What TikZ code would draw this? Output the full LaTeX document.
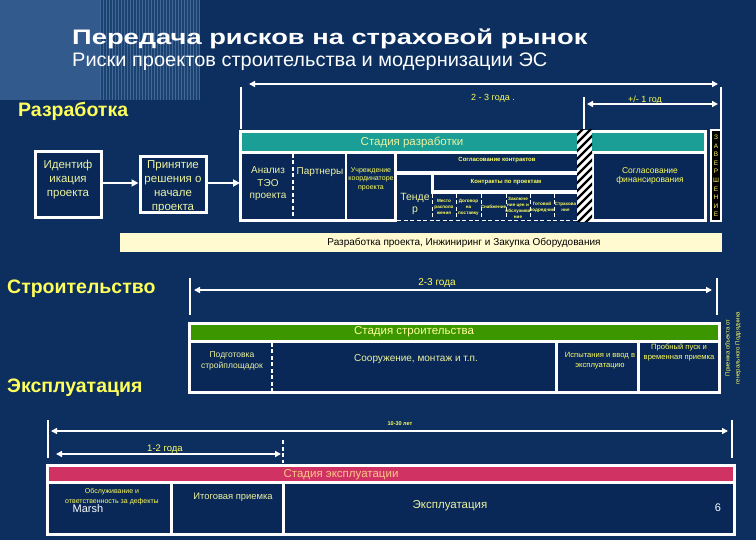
\documentclass[tikz,border=0pt]{standalone}
\usepackage{fontspec}
\setmainfont{Liberation Sans}
\usepackage{graphicx}
\usetikzlibrary{arrows.meta}
\definecolor{bgnavy}{RGB}{12,47,96}
\definecolor{cellnavy}{RGB}{9,40,88}
\definecolor{lightblk}{RGB}{50,90,140}
\definecolor{midblk}{RGB}{28,66,114}
\definecolor{stripecol}{RGB}{66,104,152}
\definecolor{cteal}{RGB}{26,158,150}
\definecolor{cgreen}{RGB}{60,150,0}
\definecolor{cmag}{RGB}{208,50,100}
\definecolor{ccream}{RGB}{255,250,208}
\definecolor{cylw}{RGB}{255,255,90}
\definecolor{cpale}{RGB}{236,242,160}
\definecolor{cpeach}{RGB}{250,200,130}
\newcommand{\fsz}[2]{\fontsize{#1}{#2}\selectfont}
\begin{document}
\begin{tikzpicture}[x=1pt,y=-1pt,
  wline/.style={white,line width=2.2pt},
  dwline/.style={white,line width=2pt,dash pattern=on 4pt off 2.5pt},
  darr/.style={white,line width=2pt,{Triangle[length=6pt,width=6pt]}-{Triangle[length=6pt,width=6pt]}},
  farr/.style={white,line width=2.5pt,-{Triangle[length=7pt,width=7pt]}},
  wbox/.style={draw=white,line width=3pt,fill=cellnavy,inner sep=0},
  ctxt/.style={text=cpale,align=center,inner sep=0},
  ytxt/.style={text=cylw,align=center,inner sep=0},
  sect/.style={text=cylw,anchor=west,inner sep=0,font=\bfseries\fsz{19.5}{22}},
]
\useasboundingbox (0,0) rectangle (756,540);
\fill[bgnavy] (0,0) rectangle (756,540);
\fill[lightblk] (0,0) rectangle (100,100);
\fill[midblk] (100,0) rectangle (200,100);
\foreach \i in {0,...,33} \fill[stripecol] (100+3*\i,0) rectangle ++(1.3,100);

% titles
\node[anchor=west,inner sep=0,text=white,font=\bfseries\fsz{21}{24}] (title) at (72,39) {\scalebox{1.3}[1]{Передача рисков на страховой рынок}};
\node[anchor=west,inner sep=0,text=white,font=\fsz{19.5}{22}] (subtitle) at (72,62) {\scalebox{1.025}[1]{Риски проектов строительства и модернизации ЭС}};
\node[sect] (razr) at (18,111) {Разработка};
\node[sect] (stroi) at (7,289) {Строительство};
\node[sect] (ekspl) at (7,388) {Эксплуатация};

% ---------- development timeline
\coordinate (t1a) at (241,87); \coordinate (t1b) at (241,129);
\coordinate (t2a) at (721,87); \coordinate (t2b) at (721,129);
\coordinate (t3a) at (584,97); \coordinate (t3b) at (584,129);
\draw[wline] (t1a) -- (t1b);
\draw[wline] (t2a) -- (t2b);
\draw[wline] (t3a) -- (t3b);
\coordinate (a1l) at (249,84); \coordinate (a1r) at (718,84);
\coordinate (a2l) at (587,104); \coordinate (a2r) at (718,104);
\draw[darr] (a1l) -- (a1r);
\draw[darr] (a2l) -- (a2r);
\node[ytxt,font=\fsz{9}{10}] (y23) at (493,98) {2 - 3 года .};
\node[ytxt,font=\fsz{9}{10}] (y1) at (645,100) {+/- 1 год};

% left boxes
\node[wbox,minimum width=66,minimum height=66] (identbox) at (68,185) {};
\node[ctxt,font=\fsz{11.5}{14}] (ident) at (68,180) {Идентиф\\икация\\проекта};
\node[wbox,minimum width=66,minimum height=56] (prinbox) at (173,185) {};
\node[ctxt,font=\fsz{11.5}{14}] (prin) at (173,187) {Принятие\\решения о\\начале\\проекта};
\coordinate (devin) at (240,183);
\draw[farr] (identbox.east |- 0,183) -- (prinbox.west |- 0,183);
\draw[farr] (prinbox.east |- 0,183) -- (devin);

% development stage
\fill[white] (239,130) rectangle (707,222);
\fill[cteal] (242,133) rectangle (577,151);
\fill[cteal] (592,133) rectangle (704,151);
\fill[cellnavy] (242,154) rectangle (345,219);
\fill[cellnavy] (347,154) rectangle (394,219);
\fill[cellnavy] (397,154) rectangle (577,171);
\fill[cellnavy] (397,175) rectangle (431,223);
\fill[cellnavy] (434,175) rectangle (577,190);
\fill[cellnavy] (431,194) rectangle (577,223);
\fill[cellnavy] (594,154) rectangle (704,219);
\fill[bgnavy] (397,222) rectangle (577,224);
\draw[dwline,line width=1.3pt] (293,154) -- (293,219);
\draw[dwline,line width=1.3pt] (397,220.5) -- (577,220.5);
\foreach \xx in {432,456,481,506,530,554}
  \draw[dwline,line width=1pt] (\xx,194) -- (\xx,219);
\begin{scope}
  \clip (577,130) rectangle (592,222);
  \fill[white] (577,130) rectangle (592,222);
  \foreach \k in {0,...,16} \draw[black,line width=2.4pt] (570,134+\k*8) -- ++(30,-30);
\end{scope}
\node[text=cpale,inner sep=0,font=\fsz{11.5}{13}] (stdev) at (412,142) {Стадия разработки};
\node[ctxt,font=\fsz{10}{12.5}] (teo) at (268,184) {Анализ\\ТЭО\\проекта};
\node[ctxt,font=\fsz{10}{12}] (partn) at (320,172) {Партнеры};
\node[ytxt,font=\fsz{7}{8.5}] (uchr) at (371,179) {Учреждение\\координаторе\\проекта};
\node[ytxt,font=\bfseries\fsz{6}{7}] (soglk) at (497,160) {Согласование контрактов};
\node[ytxt,font=\bfseries\fsz{6}{7}] (kontr) at (506,182) {Контракты по проектам};
\node[ctxt,font=\fsz{10.5}{12}] (tender) at (415,204) {Тенде\\р};
\node[ytxt,font=\bfseries\fsz{4.6}{6}] (c1) at (444,207) {Место\\располо\\жения};
\node[ytxt,font=\bfseries\fsz{4.6}{6}] (c2) at (468.5,207) {Договор\\на\\поставку};
\node[ytxt,font=\bfseries\fsz{4.6}{6}] (c3) at (493.5,207) {Снабжение};
\node[ytxt,font=\bfseries\fsz{4.6}{6}] (c4) at (518,208) {Заключе\\ние цен и\\обслужива\\ние};
\node[ytxt,font=\bfseries\fsz{4.6}{6}] (c5) at (542,207) {Готовой\\подрядчик};
\node[ytxt,font=\bfseries\fsz{4.6}{6}] (c6) at (565.5,207) {Страхова\\ние};
\node[ytxt,font=\fsz{8.5}{9.5}] (soglf) at (650,176) {Согласование\\финансирования};
\node[draw=white,line width=1.5pt,fill=black,minimum width=10,minimum height=91,inner sep=0] (zavbox) at (716,175.5) {};
\node[ytxt,font=\fsz{6.5}{8.6}] (zav) at (716,176) {З\\А\\В\\Е\\Р\\Ш\\Е\\Н\\И\\Е};
\fill[ccream] (120,233) rectangle (722,252);
\node[text=black,inner sep=0,font=\fsz{10}{12}] (razrtxt) at (464,243) {Разработка проекта, Инжиниринг и Закупка Оборудования};

% ---------- construction
\coordinate (s1a) at (190,278); \coordinate (s1b) at (190,315);
\coordinate (s2a) at (717,278); \coordinate (s2b) at (717,315);
\draw[wline] (s1a) -- (s1b);
\draw[wline] (s2a) -- (s2b);
\coordinate (sal) at (194,290); \coordinate (sar) at (712,290);
\draw[darr] (sal) -- (sar);
\node[ytxt,font=\fsz{10}{12}] (s23) at (437,283) {2-3 года};
\fill[white] (188,322) rectangle (721,394);
\fill[cgreen] (191,325) rectangle (718,340);
\fill[cellnavy] (191,343) rectangle (555,391);
\fill[cellnavy] (558,343) rectangle (637,391);
\fill[cellnavy] (640,343) rectangle (718,391);
\draw[dwline,line width=2.5pt] (272,343) -- (272,391);
\node[text=cylw!60!white,inner sep=0,font=\fsz{11.5}{13}] (ststr) at (414,332) {Стадия строительства};
\node[ctxt,font=\fsz{8.5}{11}] (podg) at (232,361) {Подготовка\\стройплощадок};
\node[ctxt,font=\fsz{10}{12}] (sooruzh) at (416,359) {Сооружение, монтаж и т.п.};
\node[ytxt,font=\fsz{7.6}{10}] (ispyt) at (600,361) {Испытания и ввод в\\эксплуатацию};
\node[ytxt,font=\fsz{7.6}{10}] (probn) at (679,352) {Пробный пуск и\\временная приемка};
\node[ytxt,font=\fsz{6}{10},rotate=90] (priemka) at (733,348) {Приемка объекта от\\генерального Подрядчика};

% ---------- exploitation
\coordinate (e1a) at (48,420); \coordinate (e1b) at (48,458);
\coordinate (e2a) at (732,420); \coordinate (e2b) at (732,458);
\draw[wline] (e1a) -- (e1b);
\draw[wline] (e2a) -- (e2b);
\coordinate (eal) at (51,431); \coordinate (ear) at (728,431);
\draw[darr] (eal) -- (ear);
\node[ytxt,font=\bfseries\fsz{5.5}{6}] (e1030) at (400,424) {10-30 лет};
\coordinate (bal) at (56,454); \coordinate (bar) at (281,454);
\draw[darr] (bal) -- (bar);
\coordinate (dta) at (283,440); \coordinate (dtb) at (283,463);
\draw[dwline,line width=2.5pt] (dta) -- (dtb);
\node[ytxt,font=\fsz{9.5}{11}] (e12) at (165,449) {1-2 года};
\fill[white] (46,464) rectangle (736,536);
\fill[cmag] (49,467) rectangle (733,481);
\fill[cellnavy] (49,484) rectangle (170,533);
\fill[cellnavy] (173,484) rectangle (282,533);
\fill[cellnavy] (285,484) rectangle (733,533);
\node[text=cpeach,inner sep=0,font=\fsz{11.5}{13}] (stexp) at (341,475) {Стадия эксплуатации};
\node[ytxt,font=\fsz{7}{10}] (obsl) at (112,497) {Обслуживание и\\ответственность за дефекты};
\node[text=white,inner sep=0,font=\fsz{11}{12}] (marsh) at (88,509) {Marsh};
\node[ctxt,font=\fsz{9.4}{11}] (itog) at (233,497) {Итоговая приемка};
\node[ctxt,font=\fsz{11.5}{13}] (expl) at (450,506) {Эксплуатация};
\node[text=white,inner sep=0,font=\fsz{11}{12}] (pnum) at (718,508) {6};
\end{tikzpicture}
\end{document}
